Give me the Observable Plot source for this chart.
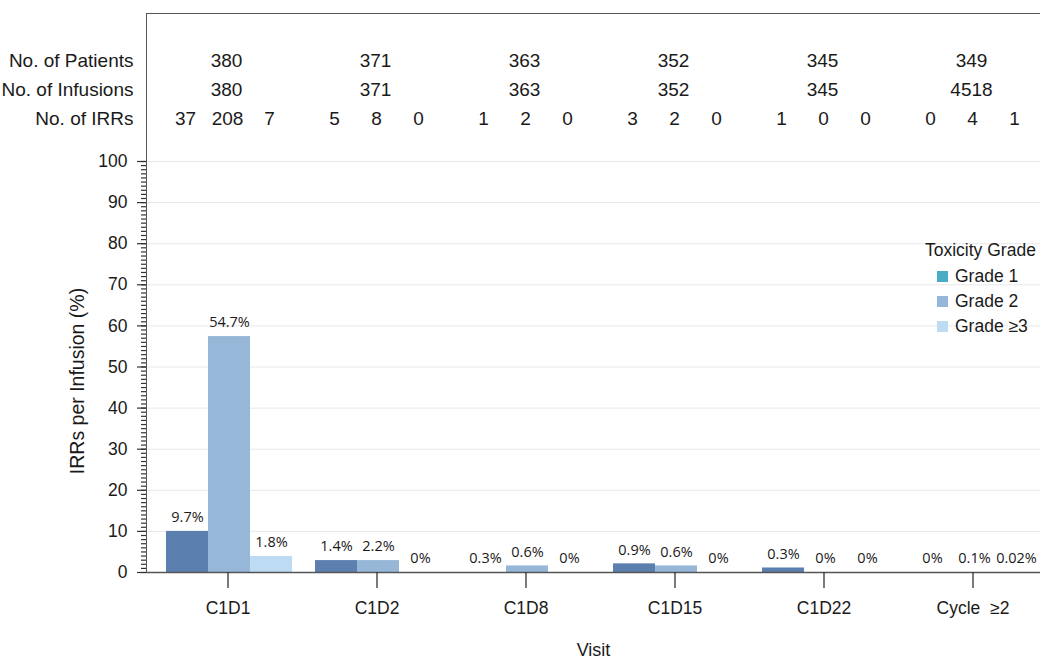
<!DOCTYPE html>
<html>
<head>
<meta charset="utf-8">
<script src="https://cdn.jsdelivr.net/npm/d3@7"></script>
<script src="https://cdn.jsdelivr.net/npm/@observablehq/plot@0.6"></script>
<style>
  html, body { margin: 0; padding: 0; background: #fff; }
  #wrap { position: relative; width: 1040px; height: 660px; overflow: hidden; }
  #frame { position: absolute; left: 146px; top: 13px; width: 900px; height: 559px;
           border-top: 1.3px solid #555; border-left: 1.3px solid #555; box-sizing: border-box; pointer-events: none; }
  #legend { position: absolute; left: 925px; top: 240px; font-family: "Liberation Sans", Arial, sans-serif; color: #1a1a1a; }
  #legend .title { font-size: 17.5px; line-height: 20px; margin-bottom: 4px; }
  #legend .item { position: relative; font-size: 17.5px; line-height: 25px; padding-left: 30px; }
  #legend .sw { position: absolute; left: 12px; top: 7px; width: 11px; height: 11px; }
  svg text { white-space: pre; }
</style>
</head>
<body>
<div id="wrap">
  <div id="chart"></div>
  <div id="frame"></div>
  <div id="legend"></div>
</div>
<script>
// ---- data ----
const visits = ["C1D1", "C1D2", "C1D8", "C1D15", "C1D22", "Cycle  ≥2"];
const grades = ["Grade 1", "Grade 2", "Grade ≥3"];

// bar heights as drawn (IRRs per infusion, %)
const grade1Values = [10.0, 2.9, 0, 2.1, 1.1, 0];
const grade2Values = [57.4, 2.9, 1.6, 1.6, 0, 0];
const grade3Values = [3.9, 0, 0, 0, 0, 0];

// printed bar labels
const grade1Labels = ["9.7%", "1.4%", "0.3%", "0.9%", "0.3%", "0%"];
const grade2Labels = ["54.7%", "2.2%", "0.6%", "0.6%", "0%", "0.1%"];
const grade3Labels = ["1.8%", "0%", "0%", "0%", "0%", "0.02%"];

// table rows
const patients = [380, 371, 363, 352, 345, 349];
const infusions = [380, 371, 363, 352, 345, 4518];
const grade1IRRs = [37, 5, 1, 3, 1, 0];
const grade2IRRs = [208, 8, 2, 2, 0, 4];
const grade3IRRs = [7, 0, 0, 0, 0, 1];
const rowLabels = ["No. of Patients", "No. of Infusions", "No. of IRRs"];

const yTicks = d3.range(0, 101, 10);
const yMinorTicks = d3.range(0, 101, 1);

const barColors = ["#5b7fae", "#97b7d8", "#bddcf3"];
const legendColors = ["#4bacc6", "#97b7d8", "#bddcf3"];
const legendTitle = "Toxicity Grade";
const xLabel = "Visit";
const yLabel = "IRRs per Infusion (%)";

// ---- build tables ----
const valuesByGrade = [grade1Values, grade2Values, grade3Values];
const labelsByGrade = [grade1Labels, grade2Labels, grade3Labels];
const irrsByGrade = [grade1IRRs, grade2IRRs, grade3IRRs];
const data = visits.flatMap((v, i) => grades.map((g, j) => ({
  visit: v, grade: g, value: valuesByGrade[j][i], label: labelsByGrade[j][i], irr: String(irrsByGrade[j][i])
})));
const visitTable = visits.map((v, i) => ({visit: v, grade: grades[1], patients: String(patients[i]), infusions: String(infusions[i])}));

const font = "'Liberation Sans', Arial, sans-serif";
const rowDy = [-101, -72, -43];
const tableSize = 19;

const chart = Plot.plot({
  width: 1040,
  height: 660,
  marginLeft: 146,
  marginRight: 0,
  marginTop: 161,
  marginBottom: 88,
  style: {fontFamily: font, fontSize: "17px", color: "#1a1a1a", background: "white"},
  fx: {domain: visits, padding: 0, label: null},
  x: {domain: grades, paddingInner: 0, paddingOuter: 0.242, align: 0.87, axis: null},
  y: {domain: [0, 100]},
  color: {domain: grades, range: barColors},
  marks: [
    Plot.ruleY(yTicks.filter(d => d > 0), {stroke: "#e8e8e8", strokeWidth: 1}),
    Plot.barY(data, {fx: "visit", x: "grade", y: "value", fill: "grade"}),
    Plot.ruleY([0], {stroke: "#555", strokeWidth: 1.3}),
    Plot.axisY(yMinorTicks, {tickSize: 5, tickFormat: () => "", stroke: "#333", strokeWidth: 1.2, label: null}),
    Plot.axisY(yTicks, {tickSize: 9, tickPadding: 10, fontSize: 17.5, stroke: "#333", strokeWidth: 1.2, label: null}),
    Plot.axisFx({anchor: "bottom", tickSize: 16, tickPadding: 13, fontSize: 17.5, stroke: "#333", strokeWidth: 1.3, label: null, dx: 7}),
    Plot.text(data, {fx: "visit", x: "grade", y: "value", text: "label", dy: -14,
      fontFamily: "'Open Sans', 'Noto Sans', sans-serif", fontSize: 14.5}),
    Plot.text(visitTable, {fx: "visit", x: "grade", frameAnchor: "top", lineAnchor: "middle", dx: -3, dy: rowDy[0], text: "patients", fontSize: tableSize}),
    Plot.text(visitTable, {fx: "visit", x: "grade", frameAnchor: "top", lineAnchor: "middle", dx: -3, dy: rowDy[1], text: "infusions", fontSize: tableSize}),
    Plot.text(data, {fx: "visit", x: "grade", frameAnchor: "top", lineAnchor: "middle", dx: -2, dy: rowDy[2], text: "irr", fontSize: tableSize}),
    ...rowLabels.map((t, i) => Plot.text([t], {facet: "super", frameAnchor: "top-left", textAnchor: "end", lineAnchor: "middle",
      dx: -13, dy: rowDy[i], text: d => d, fontSize: tableSize})),
    Plot.text([yLabel], {facet: "super", frameAnchor: "left", textAnchor: "middle", lineAnchor: "middle", rotate: -90, dx: -69, dy: 14, text: d => d, fontSize: 19.5}),
    Plot.text([xLabel], {facet: "super", frameAnchor: "bottom", lineAnchor: "middle", dy: 78, text: d => d, fontSize: 18})
  ]
});
document.getElementById("chart").appendChild(chart);

// legend
const legend = document.getElementById("legend");
const title = document.createElement("div");
title.className = "title";
title.textContent = legendTitle;
legend.appendChild(title);
grades.forEach((g, i) => {
  const item = document.createElement("div");
  item.className = "item";
  const sw = document.createElement("span");
  sw.className = "sw";
  sw.style.background = legendColors[i];
  item.appendChild(sw);
  item.appendChild(document.createTextNode(g));
  legend.appendChild(item);
});
</script>
</body>
</html>
